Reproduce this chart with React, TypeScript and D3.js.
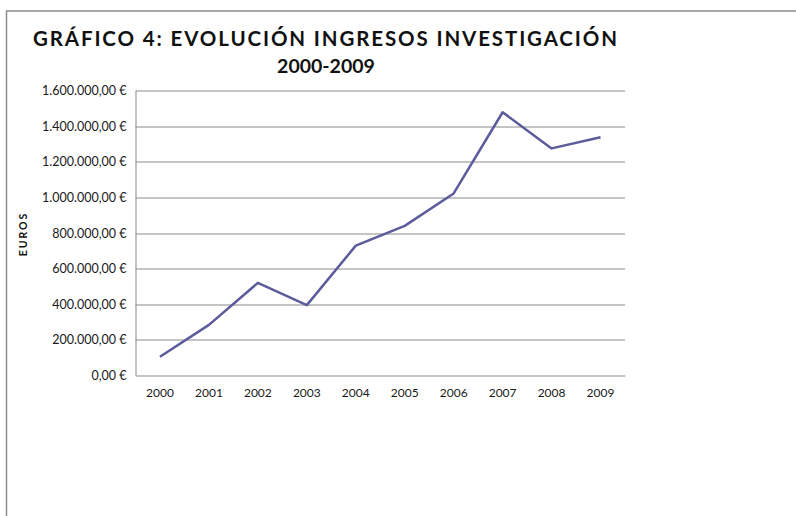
import { useEffect, useRef } from 'react';
import * as d3 from 'd3';

const years = ['2000', '2001', '2002', '2003', '2004', '2005', '2006', '2007', '2008', '2009'];
const ingresos = [105000, 284000, 520000, 395000, 729000, 840000, 1022000, 1478000, 1275000, 1338000];
const yTicks = [0, 200000, 400000, 600000, 800000, 1000000, 1200000, 1400000, 1600000];
const titleLines = ['GRÁFICO 4: EVOLUCIÓN INGRESOS INVESTIGACIÓN', '2000-2009'];
const yTitle = 'EUROS';

const W = 796;
const H = 516;
const font = 'Lato, "Open Sans", sans-serif';

export default function App() {
  const svgRef = useRef<SVGSVGElement>(null);

  useEffect(() => {
    if (!svgRef.current) return;
    const svg = d3.select(svgRef.current);
    svg.selectAll('*').remove();

    const margin = { top: 90.5, right: 171, bottom: 140.5, left: 135.5 };
    const w = W - margin.left - margin.right;
    const h = H - margin.top - margin.bottom;

    // chart frame (only top and left edges visible)
    svg.append('path')
      .attr('d', `M6.5,${H} L6.5,11 L${W},11`)
      .attr('fill', 'none').attr('stroke', '#8c8c8c').attr('stroke-width', 1.5);

    // title
    svg.append('text')
      .attr('x', 325).attr('y', 46)
      .attr('text-anchor', 'middle')
      .attr('font-family', font).attr('font-weight', 700).attr('font-size', 20.5)
      .attr('textLength', 584).attr('lengthAdjust', 'spacing')
      .attr('fill', '#111')
      .text(titleLines[0]);
    svg.append('text')
      .attr('x', 326).attr('y', 73)
      .attr('text-anchor', 'middle')
      .attr('font-family', font).attr('font-weight', 700).attr('font-size', 19.5)
      .attr('fill', '#111')
      .text(titleLines[1]);

    const g = svg.append('g').attr('transform', `translate(${margin.left},${margin.top})`);

    const x = d3.scaleBand().domain(years).range([0, w]).padding(0);
    const y = d3.scaleLinear().domain([0, 1600000]).range([h, 0]);

    const locale = d3.formatLocale({ decimal: ',', thousands: '.', grouping: [3], currency: ['', ' €'] });
    const fmt = locale.format('$,.2f');

    // gridlines
    g.append('g').selectAll('line')
      .data(yTicks.slice(1)).enter().append('line')
      .attr('x1', 0).attr('x2', w)
      .attr('y1', d => Math.round(y(d)) + 0.5).attr('y2', d => Math.round(y(d)) + 0.5)
      .attr('stroke', '#8a8a8a').attr('stroke-width', 1);

    // y axis
    g.append('g')
      .call(d3.axisLeft(y).tickValues(yTicks).tickFormat(d => fmt(d as number)).tickSize(0).tickPadding(9))
      .call(s => s.select('.domain').attr('stroke', '#8a8a8a'))
      .call(s => s.selectAll('text').attr('fill', '#1a1a1a').attr('font-size', '12.5px').attr('font-family', font));

    // x axis
    g.append('g').attr('transform', `translate(0,${h})`)
      .call(d3.axisBottom(x).tickSize(0).tickPadding(13))
      .call(s => s.select('.domain').attr('stroke', '#b4b4b4').attr('stroke-width', 1.5))
      .call(s => s.selectAll('text').attr('fill', '#1a1a1a').attr('font-size', '12px').attr('font-family', font));

    // y axis title
    svg.append('text')
      .attr('transform', 'translate(27,234) rotate(-90)')
      .attr('text-anchor', 'middle')
      .attr('font-family', font).attr('font-weight', 700).attr('font-size', 10.5)
      .attr('letter-spacing', 2)
      .attr('fill', '#111')
      .text(yTitle);

    // series line
    const line = d3.line<number>()
      .x((_, i) => (x(years[i]) as number) + x.bandwidth() / 2)
      .y(d => y(d));

    g.append('path').datum(ingresos)
      .attr('fill', 'none')
      .attr('stroke', '#5c5c9c')
      .attr('stroke-width', 2.5)
      .attr('stroke-linejoin', 'round')
      .attr('d', line);
  }, []);

  return (
    <svg ref={svgRef} width={W} height={H}
      style={{ position: 'absolute', left: 0, top: 0, background: '#fff' }} />
  );
}
